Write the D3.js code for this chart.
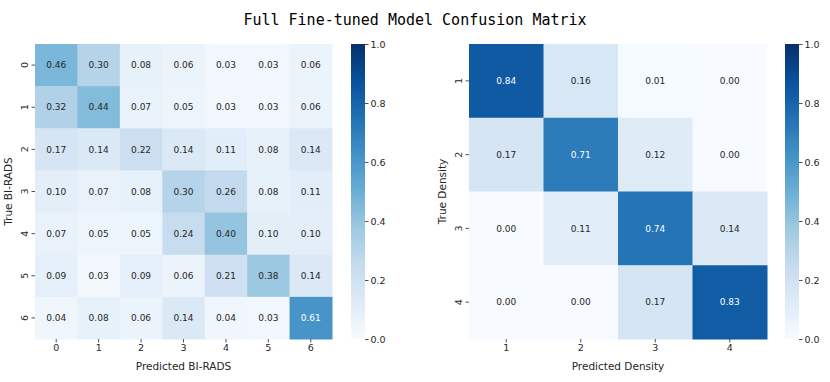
<!DOCTYPE html>
<html>
<head>
<meta charset="utf-8" />
<style>
  body { margin: 0; background: white; }
  svg { font-family: "DejaVu Sans", sans-serif; }
</style>
<script src="https://cdnjs.cloudflare.com/ajax/libs/d3/7.8.5/d3.min.js"></script>
</head>
<body>
<div id="graph"></div>
<script>
var biradsLabels = ["0", "1", "2", "3", "4", "5", "6"];
var biradsMatrix = [
  [0.46, 0.30, 0.08, 0.06, 0.03, 0.03, 0.06],
  [0.32, 0.44, 0.07, 0.05, 0.03, 0.03, 0.06],
  [0.17, 0.14, 0.22, 0.14, 0.11, 0.08, 0.14],
  [0.10, 0.07, 0.08, 0.30, 0.26, 0.08, 0.11],
  [0.07, 0.05, 0.05, 0.24, 0.40, 0.10, 0.10],
  [0.09, 0.03, 0.09, 0.06, 0.21, 0.38, 0.14],
  [0.04, 0.08, 0.06, 0.14, 0.04, 0.03, 0.61]
];
var densityLabels = ["1", "2", "3", "4"];
var densityMatrix = [
  [0.84, 0.16, 0.01, 0.00],
  [0.17, 0.71, 0.12, 0.00],
  [0.00, 0.11, 0.74, 0.14],
  [0.00, 0.00, 0.17, 0.83]
];
var cbarTicks = [0, 0.2, 0.4, 0.6, 0.8, 1.0];

// matplotlib "Blues"
var bluesColors = ["#f7fbff", "#deebf7", "#c6dbef", "#9ecae1", "#6baed6",
                   "#4292c6", "#2171b5", "#08519c", "#08306b"];
var color = d3.scaleLinear()
  .domain(d3.range(bluesColors.length).map(function (i) { return i / (bluesColors.length - 1); }))
  .range(bluesColors)
  .interpolate(d3.interpolateRgb);

function luminance(c) {
  var rgb = d3.rgb(c);
  var ch = [rgb.r, rgb.g, rgb.b].map(function (v) {
    v = v / 255;
    return v <= 0.03928 ? v / 12.92 : Math.pow((v + 0.055) / 1.055, 2.4);
  });
  return 0.2126 * ch[0] + 0.7152 * ch[1] + 0.0722 * ch[2];
}

var W = 830, H = 382;
var svg = d3.select("#graph").append("svg")
  .attr("width", W).attr("height", H);

svg.append("text")
  .attr("x", 415).attr("y", 25)
  .attr("text-anchor", "middle")
  .style("font-family", "'DejaVu Sans Mono', monospace")
  .style("font-size", "15px")
  .text("Full Fine-tuned Model Confusion Matrix");

// gradient for colorbars
var grad = svg.append("defs").append("linearGradient")
  .attr("id", "blues").attr("x1", 0).attr("y1", 1).attr("x2", 0).attr("y2", 0);
bluesColors.forEach(function (c, i) {
  grad.append("stop").attr("offset", (i / (bluesColors.length - 1) * 100) + "%").attr("stop-color", c);
});

function heatmap(opt) {
  var n = opt.labels.length;
  var x = d3.scaleBand().domain(opt.labels).range([opt.x0, opt.x1]);
  var y = d3.scaleBand().domain(opt.labels).range([opt.y0, opt.y1]);
  var g = svg.append("g");

  var cells = [];
  opt.matrix.forEach(function (row, i) {
    row.forEach(function (v, j) {
      cells.push({ r: opt.labels[i], c: opt.labels[j], v: v });
    });
  });

  g.selectAll("rect.cell").data(cells).enter().append("rect")
    .attr("class", "cell")
    .attr("x", function (d) { return x(d.c); })
    .attr("y", function (d) { return y(d.r); })
    .attr("width", x.bandwidth() + 0.5)
    .attr("height", y.bandwidth() + 0.5)
    .attr("fill", function (d) { return color(d.v); });

  g.selectAll("text.val").data(cells).enter().append("text")
    .attr("class", "val")
    .attr("x", function (d) { return x(d.c) + x.bandwidth() / 2; })
    .attr("y", function (d) { return y(d.r) + y.bandwidth() / 2; })
    .attr("dy", "0.35em")
    .attr("text-anchor", "middle")
    .style("font-size", "9px")
    .attr("fill", function (d) { return luminance(color(d.v)) > 0.408 ? "#262626" : "white"; })
    .text(function (d) { return d.v.toFixed(2); });

  var xAxis = g.append("g")
    .attr("transform", "translate(0," + opt.y1 + ")")
    .call(d3.axisBottom(x).tickSize(3.5).tickPadding(2));
  var yAxis = g.append("g")
    .attr("transform", "translate(" + opt.x0 + ",0)")
    .call(d3.axisLeft(y).tickSize(3.5).tickPadding(2));
  [xAxis, yAxis].forEach(function (a) {
    a.select(".domain").remove();
    a.selectAll("line").attr("stroke", "#262626").attr("stroke-width", 0.8);
    a.selectAll("text").style("font-size", "9.5px").style("font-family", "'DejaVu Sans', sans-serif").attr("fill", "#262626");
  });
  yAxis.selectAll("text")
    .attr("x", null).attr("dy", null)
    .attr("text-anchor", "middle")
    .attr("transform", "translate(-10,0) rotate(-90)")
    .attr("dy", "0.35em");

  g.append("text")
    .attr("x", (opt.x0 + opt.x1) / 2).attr("y", opt.y1 + 31)
    .attr("text-anchor", "middle")
    .style("font-size", "10.5px").attr("fill", "#262626")
    .text(opt.xLabel);
  g.append("text")
    .attr("transform", "translate(" + (opt.x0 - 23) + "," + ((opt.y0 + opt.y1) / 2) + ") rotate(-90)")
    .attr("text-anchor", "middle")
    .style("font-size", "10.5px").attr("fill", "#262626")
    .text(opt.yLabel);

  // colorbar
  var cs = d3.scaleLinear().domain([0, 1]).range([opt.y1, opt.y0]);
  g.append("rect")
    .attr("x", opt.cbx).attr("y", opt.y0)
    .attr("width", 14).attr("height", opt.y1 - opt.y0)
    .attr("fill", "url(#blues)");
  var cAxis = g.append("g")
    .attr("transform", "translate(" + (opt.cbx + 14) + ",0)")
    .call(d3.axisRight(cs).tickValues(cbarTicks).tickFormat(d3.format(".1f")).tickSize(3.5).tickPadding(2));
  cAxis.select(".domain").remove();
  cAxis.selectAll("line").attr("stroke", "#262626").attr("stroke-width", 0.8);
  cAxis.selectAll("text").style("font-size", "9.5px").style("font-family", "'DejaVu Sans', sans-serif").attr("fill", "#262626");
}

heatmap({ labels: biradsLabels, matrix: biradsMatrix, x0: 35, x1: 332, y0: 44, y1: 339,
          cbx: 351, xLabel: "Predicted BI-RADS", yLabel: "True BI-RADS" });
heatmap({ labels: densityLabels, matrix: densityMatrix, x0: 469, x1: 767, y0: 44, y1: 339,
          cbx: 785, xLabel: "Predicted Density", yLabel: "True Density" });
</script>
</body>
</html>
